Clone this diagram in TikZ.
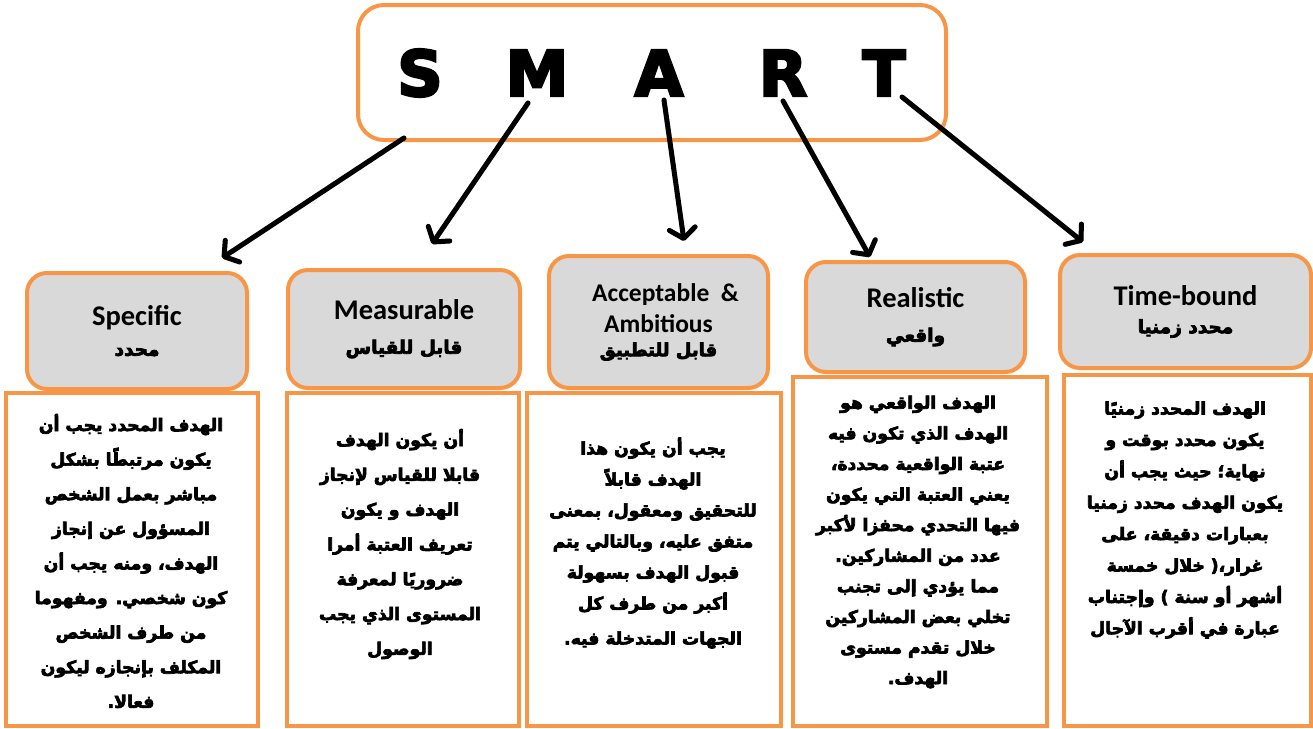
\documentclass[tikz,border=0pt]{standalone}
\usepackage{fontspec}
\usetikzlibrary{arrows.meta}
\setmainfont{Liberation Sans}
\newfontfamily\arabicfont[Script=Arabic, BoldFont={DejaVu Sans Bold}, BoldFeatures={FakeBold=4}]{DejaVu Sans}
\newfontfamily\calfont{Carlito}
\newfontfamily\heavyfont[FakeBold=4]{DejaVu Sans Bold}
\TeXXeTstate=1
\newcommand{\arline}[1]{\beginR#1\endR}
\definecolor{smartorange}{HTML}{F79646}
\definecolor{headgray}{HTML}{D9D9D9}

\begin{document}
\begin{tikzpicture}[x=1pt,y=-1pt,
  frame/.style={draw=smartorange, line width=4pt},
  titlebox/.style={frame, fill=white, rounded corners=26pt, inner sep=0pt},
  headbox/.style={frame, fill=headgray, rounded corners=20pt, inner sep=0pt, align=center,
    font=\calfont\bfseries\fontsize{28.5}{34}\selectfont},
  textbox/.style={frame, fill=white, inner sep=0pt},
  bodytext/.style={align=center, inner sep=0pt, font=\arabicfont\bfseries\fontsize{17.2}{#1}\selectfont},
  letter/.style={inner sep=0pt, font=\heavyfont\fontsize{63}{63}\selectfont},
  arrowline/.style={line width=5pt, line cap=round, -{Straight Barb[length=10pt,width=26pt,line join=round,line cap=round]}},
  arrowshade/.style={arrowline, draw=black, opacity=0.15, shift={(2,3)}}
]
\useasboundingbox (0,0) rectangle (1313,728);

% title box with the five letters
\node[titlebox, minimum width=588, minimum height=135] (title) at (652,72.5) {};
\node[letter] (lS) at (420,73) {S};
\node[letter] (lM) at (537,73) {M};
\node[letter] (lA) at (659,73) {A};
\node[letter] (lR) at (783,73) {R};
\node[letter] (lT) at (884,73) {T};

% detail boxes (drawn first so the heading boxes sit on top)
\node[textbox, minimum width=252, minimum height=333] (bS) at (132,559.5) {};
\node[textbox, minimum width=232, minimum height=333] (bM) at (403,559.5) {};
\node[textbox, minimum width=254, minimum height=333] (bA) at (654,559.5) {};
\node[textbox, minimum width=254, minimum height=349] (bR) at (920,551.5) {};
\node[textbox, minimum width=247, minimum height=351] (bT) at (1187.5,550.5) {};

% heading boxes
\node[headbox, minimum width=220, minimum height=116] (hS) at (137,331)
  {Specific\\[-4pt]{\arabicfont\fontsize{18.5}{24}\selectfont\arline{محدد}}};
\node[headbox, minimum width=232, minimum height=118] (hM) at (404,329)
  {Measurable\\[0pt]{\arabicfont\fontsize{18.5}{24}\selectfont\arline{قابل للقياس}}};
\node[headbox, minimum width=219, minimum height=132, font=\calfont\bfseries\fontsize{25.5}{31}\selectfont] (hA) at (658.5,322)
  {\hspace*{14pt}Acceptable~~\&\\Ambitious\\[-7pt]{\arabicfont\fontsize{18}{24}\selectfont\arline{قابل للتطبيق}}};
\node[headbox, minimum width=219, minimum height=110] (hR) at (915.5,317)
  {Realistic\\[0pt]{\arabicfont\fontsize{18.5}{24}\selectfont\arline{واقعي}}};
\node[headbox, minimum width=251, minimum height=113] (hT) at (1185.5,311.5)
  {Time-bound\\[-6pt]{\arabicfont\fontsize{18.5}{24}\selectfont\arline{محدد زمنيا}}};

% detail texts
\node[bodytext=34.6] (tS) at (131,561) {%
\arline{الهدف المحدد يجب أن}\\
\arline{يكون مرتبطًا بشكل}\\
\arline{مباشر بعمل الشخص}\\
\arline{المسؤول عن إنجاز}\\
\arline{الهدف، ومنه يجب أن}\\
\arline{كون شخصي. ومفهوما}\\
\arline{من طرف الشخص}\\
\arline{المكلف بإنجازه ليكون}\\
\arline{فعالا.}};

\node[bodytext=34.8] (tM) at (400,544) {%
\arline{أن يكون الهدف}\\
\arline{قابلا للقياس لإنجاز}\\
\arline{الهدف  و يكون}\\
\arline{تعريف العتبة أمرا}\\
\arline{ضروريًا لمعرفة}\\
\arline{المستوى الذي يجب}\\
\arline{الوصول}};

\node[bodytext=31] (tA) at (653,543) {%
\arline{يجب أن يكون هذا}\\
\arline{الهدف قابلاً}\\
\arline{للتحقيق ومعقول، بمعنى}\\
\arline{متفق عليه، وبالتالي يتم}\\
\arline{قبول الهدف بسهولة}\\
\arline{أكبر من طرف كل}\\[4pt]
\arline{الجهات المتدخلة فيه.}};

\node[bodytext=30.6] (tR) at (918,542) {%
\arline{الهدف الواقعي هو}\\
\arline{الهدف الذي تكون فيه}\\
\arline{عتبة الواقعية محددة،}\\
\arline{يعني العتبة التي يكون}\\
\arline{فيها التحدي محفزا لأكبر}\\
\arline{عدد من المشاركين.}\\
\arline{مما يؤدي إلى تجنب}\\
\arline{تخلي بعض المشاركين}\\
\arline{خلال تقدم مستوى}\\
\arline{الهدف.}};

\node[bodytext=31.4] (tT) at (1185,520) {%
\arline{الهدف المحدد زمنيًا}\\
\arline{يكون محدد بوقت و}\\
\arline{نهاية؛ حيث يجب أن}\\
\arline{يكون الهدف محدد زمنيا}\\
\arline{بعبارات دقيقة، على}\\
\arline{غرار،( خلال خمسة}\\
\arline{أشهر أو سنة ) وإجتناب}\\
\arline{عبارة في أقرب الآجال}};

% arrow end points
\coordinate (sS) at (404,138); \coordinate (eS) at (222,258);
\coordinate (sM) at (528,103); \coordinate (eM) at (432,244);
\coordinate (sA) at (664,100); \coordinate (eA) at (684,241);
\coordinate (sR) at (783,101); \coordinate (eR) at (870,257);
\coordinate (sT) at (902,97);  \coordinate (eT) at (1083,242);

% soft shadows, then the arrows
\foreach \k in {S,M,A,R,T} \draw[arrowshade] (s\k) -- (e\k);
\foreach \k in {S,M,A,R,T} \draw[arrowline] (s\k) -- (e\k);
\end{tikzpicture}
\end{document}
